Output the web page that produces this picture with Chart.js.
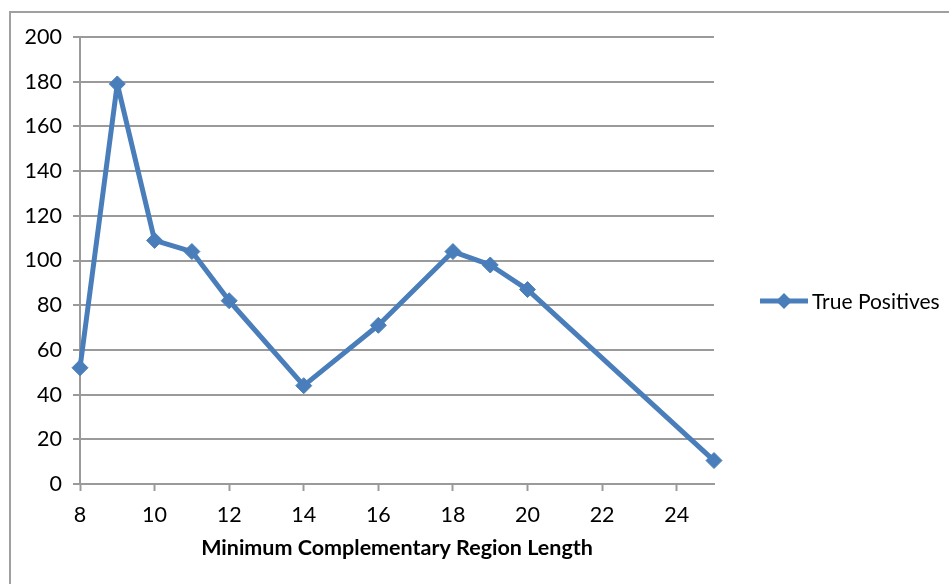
<!DOCTYPE html>
<html>
<head>
<meta charset="utf-8">
<script src="https://cdn.jsdelivr.net/npm/chart.js@4/dist/chart.umd.min.js"></script>
<style>
  html, body { margin: 0; padding: 0; background: #ffffff; }
  #wrap { position: relative; width: 949px; height: 584px; }
</style>
</head>
<body>
<div id="wrap"><canvas id="chart" width="949" height="584"></canvas></div>
<script>
// Minimum complementary region length vs. number of true positives
const regionLengths = [8, 9, 10, 11, 12, 14, 16, 18, 19, 20, 25];
const truePositives = [52, 179, 109, 104, 82, 44, 71, 104, 98, 87, 10.5];
const seriesName = 'True Positives';
const xTitle = 'Minimum Complementary Region Length';
const yTickValues = [0, 20, 40, 60, 80, 100, 120, 140, 160, 180, 200];

const lineColor = '#4a7ebb';
const gridColor = '#9a9a9a';
const fontFamily = 'Lato, "Open Sans", sans-serif';

// Outer frame around the whole chart object
const framePlugin = {
  id: 'frame',
  beforeDraw(chart) {
    const ctx = chart.ctx;
    ctx.save();
    ctx.strokeStyle = '#a0a0a0';
    ctx.lineWidth = 2;
    ctx.strokeRect(10, 12, 2000, 2000);
    ctx.restore();
  }
};

// Legend on the right: line segment with a diamond marker and the series name
const sideLegend = {
  id: 'sideLegend',
  afterDraw(chart) {
    const ds = chart.data.datasets[0];
    const ctx = chart.ctx;
    const y = 301, x0 = 760, x1 = 808, xm = 784, r = 8;
    ctx.save();
    ctx.strokeStyle = ds.borderColor;
    ctx.lineWidth = ds.borderWidth;
    ctx.beginPath();
    ctx.moveTo(x0, y);
    ctx.lineTo(x1, y);
    ctx.stroke();
    ctx.fillStyle = ds.pointBackgroundColor;
    ctx.beginPath();
    ctx.moveTo(xm, y - r);
    ctx.lineTo(xm + r, y);
    ctx.lineTo(xm, y + r);
    ctx.lineTo(xm - r, y);
    ctx.closePath();
    ctx.fill();
    ctx.fillStyle = '#000000';
    ctx.font = '21px ' + fontFamily;
    ctx.textBaseline = 'middle';
    ctx.textAlign = 'left';
    ctx.fillText(ds.label, 812, y + 1);
    ctx.restore();
  }
};

new Chart(document.getElementById('chart'), {
  type: 'line',
  data: {
    datasets: [{
      label: seriesName,
      data: regionLengths.map((x, i) => ({ x: x, y: truePositives[i] })),
      borderColor: lineColor,
      backgroundColor: lineColor,
      pointBackgroundColor: lineColor,
      pointBorderColor: lineColor,
      borderWidth: 5,
      borderJoinStyle: 'round',
      pointStyle: 'rectRot',
      pointRadius: 8,
      pointBorderWidth: 1,
      tension: 0,
      fill: false,
      clip: false
    }]
  },
  options: {
    responsive: false,
    animation: false,
    layout: { padding: { left: 0, top: 37, right: 235, bottom: 0 } },
    plugins: {
      legend: { display: false },
      tooltip: { enabled: false }
    },
    scales: {
      x: {
        type: 'linear',
        min: 8,
        max: 25,
        afterBuildTicks(scale) {
          scale.ticks = scale.ticks.filter(t => t.value <= 24);
        },
        afterFit(scale) { scale.height = 100; },
        ticks: {
          stepSize: 2,
          color: '#000000',
          padding: 11,
          maxRotation: 0,
          font: { family: fontFamily, size: 21.5 }
        },
        grid: {
          drawOnChartArea: false,
          drawTicks: true,
          tickLength: 7,
          tickColor: gridColor,
          tickWidth: 2
        },
        border: { display: true, color: gridColor, width: 2 },
        title: {
          display: true,
          text: xTitle,
          color: '#000000',
          font: { family: fontFamily, size: 21.5, weight: 'bold' },
          padding: { top: 4, bottom: 23 }
        }
      },
      y: {
        type: 'linear',
        min: 0,
        max: 200,
        afterBuildTicks(scale) {
          scale.ticks = yTickValues.map(v => ({ value: v }));
        },
        afterFit(scale) { scale.width = 80; },
        ticks: {
          color: '#000000',
          padding: 11,
          font: { family: fontFamily, size: 21.5 }
        },
        grid: {
          color: gridColor,
          lineWidth: 2,
          drawTicks: true,
          tickLength: 7,
          tickColor: gridColor
        },
        border: { display: true, color: gridColor, width: 2 }
      }
    }
  },
  plugins: [framePlugin, sideLegend]
});
</script>
</body>
</html>
